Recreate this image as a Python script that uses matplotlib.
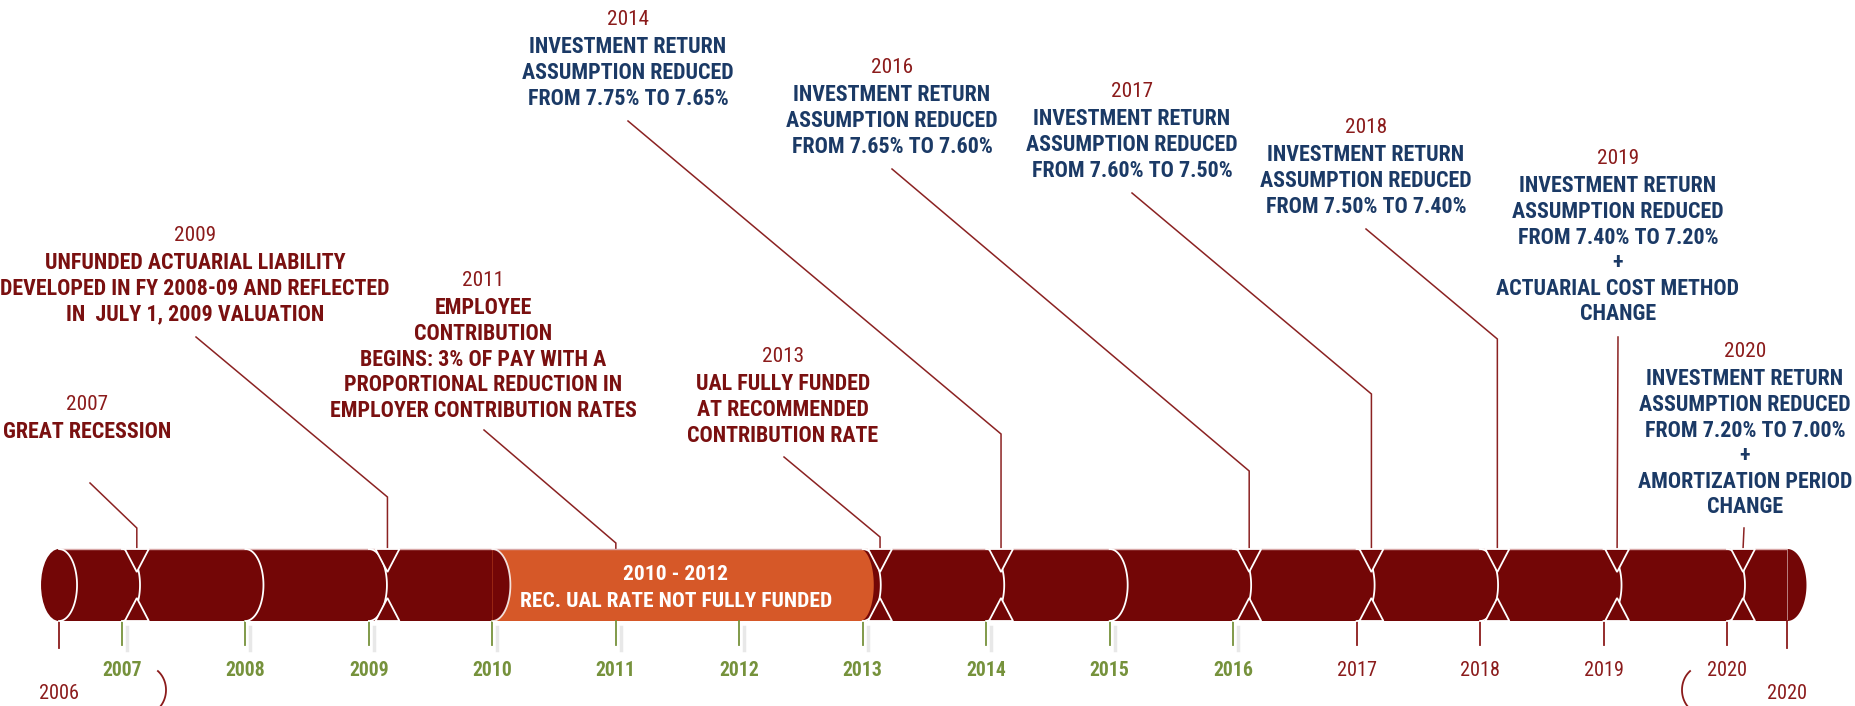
import matplotlib
matplotlib.use("Agg")
import matplotlib.pyplot as plt
from matplotlib import font_manager as fm
from matplotlib.patches import Rectangle, Ellipse, Polygon, Arc
import numpy as np

# ---------------- data ----------------
tick_years = list(range(2007, 2021))
tick_labels = [str(y) for y in tick_years]
span_start, span_end = 2006.49, 2020.49          # timeline ends
span_labels = ["2006", "2020"]
green_until = 2016                               # ticks up to this year in green
orange_span = (2010, 2013)
orange_lines = ["2010 - 2012", "REC. UAL RATE NOT FULLY FUNDED"]

event_years = [2007, 2009, 2011, 2013, 2014, 2016, 2017, 2018, 2019, 2020]
event_pos = [2007.12, 2009.15, 2011.0, 2013.14, 2014.12, 2016.13, 2017.12, 2018.14, 2019.11, 2020.13]
event_lines = [
    ["GREAT RECESSION"],
    ["UNFUNDED ACTUARIAL LIABILITY", "DEVELOPED IN FY 2008-09 AND REFLECTED", "IN  JULY 1, 2009 VALUATION"],
    ["EMPLOYEE", "CONTRIBUTION", "BEGINS: 3% OF PAY WITH A", "PROPORTIONAL REDUCTION IN",
     "EMPLOYER CONTRIBUTION RATES"],
    ["UAL FULLY FUNDED", "AT RECOMMENDED", "CONTRIBUTION RATE"],
    ["INVESTMENT RETURN", "ASSUMPTION REDUCED", "FROM 7.75% TO 7.65%"],
    ["INVESTMENT RETURN", "ASSUMPTION REDUCED", "FROM 7.65% TO 7.60%"],
    ["INVESTMENT RETURN", "ASSUMPTION REDUCED", "FROM 7.60% TO 7.50%"],
    ["INVESTMENT RETURN", "ASSUMPTION REDUCED", "FROM 7.50% TO 7.40%"],
    ["INVESTMENT RETURN", "ASSUMPTION REDUCED", "FROM 7.40% TO 7.20%", "+",
     "ACTUARIAL COST METHOD", "CHANGE"],
    ["INVESTMENT RETURN", "ASSUMPTION REDUCED", "FROM 7.20% TO 7.00%", "+",
     "AMORTIZATION PERIOD", "CHANGE"],
]
event_kind = ["m", "m", "m", "m", "b", "b", "b", "b", "b", "b"]   # m = maroon text, b = blue text
hourglass_events = [2007, 2009, 2013, 2014, 2016, 2017, 2018, 2019, 2020]

# ---------------- layout (pixels of the 1855x706 canvas) ----------------
W, H = 1855, 706
PX0, PPY = 122.0, 123.46        # pixel x of 2007 tick, pixels per year
label_cx = [87, 195, 483, 783, 628, 892, 1132, 1366, 1618, 1745]
label_y = [402, 233, 278, 354, 17, 65, 89, 125, 156, 349]
conn_start = [(90, 483), (196, 337), (484, 430), (784, 457), (628, 121), (892, 169),
              (1132, 193), (1366, 229), (1618, 337), (1744, 528)]
conn_elbow_y = [528, 497, 543, 537, 434, 471, 394, 339, None, None]
TOP, BOT = 549, 621
MID = (TOP + BOT) / 2
CAP_A = 18.0                     # half width (px) of the elliptical caps
LINE0, LINE_STEP = 28.5, 25.6

BODY_C = "#730606"
ORANGE_C = "#D65828"
MAROON_T = "#7A1010"
YEAR_T = "#8B1B1B"
BLUE_T = "#1B3A66"
GREEN_T = "#76923C"
CONN_C = "#8B2222"


def X(px):
    return 2007 + (px - PX0) / PPY


def A(px):
    return px / PPY


def available(name):
    try:
        fm.findfont(fm.FontProperties(family=name), fallback_to_default=False)
        return True
    except Exception:
        return False


FAMILY = next((f for f in ["Liberation Sans Narrow", "Roboto Condensed", "Open Sans", "Liberation Sans"]
               if available(f)), "DejaVu Sans")
plt.rcParams["font.family"] = [FAMILY, "DejaVu Sans"]

fig = plt.figure(figsize=(W / 100, H / 100), dpi=100)
renderer = fig.canvas.get_renderer()


def fit(s, w_px, weight):
    t = fig.text(0, 0, s, fontsize=20, fontweight=weight)
    w = t.get_window_extent(renderer).width
    t.remove()
    return 20 * w_px / w


BODY_FS = fit("ASSUMPTION REDUCED", 212, "bold")
YEAR_FS = fit("2014", 42, "normal")
TICK_FS = fit("2007", 40, "bold")
BAR_FS = fit("REC. UAL RATE NOT FULLY FUNDED", 311, "bold")

ax = fig.add_axes([0, 0, 1, 1])
ax.set_xlim(X(0), X(W))
ax.set_ylim(H, 0)
ax.axis("off")


def ctext(x, yc, s, fs, color, weight="normal"):
    em = fs * 100 / 72
    ax.text(x, yc + 0.36 * em, s, fontsize=fs, color=color, fontweight=weight,
            ha="center", va="baseline", zorder=10)


def ellipse_pts(cx, cy, a_px, b_px, t0, t1, n=80):
    t = np.deg2rad(np.linspace(t0, t1, n))
    return cx + A(a_px) * np.cos(t), cy + b_px * np.sin(t)


def half_ellipse(cx, a_px, b_px=(BOT - TOP) / 2):
    xs, ys = ellipse_pts(cx, MID, a_px, b_px, -90, 90)
    return np.column_stack([xs, ys])


# ---------------- cylinder ----------------
ax.add_patch(Rectangle((span_start, TOP), span_end - span_start, BOT - TOP,
                       facecolor=BODY_C, edgecolor="none", zorder=2))
ax.add_patch(Rectangle((orange_span[0], TOP), orange_span[1] - orange_span[0], BOT - TOP,
                       facecolor=ORANGE_C, edgecolor="none", zorder=3))
# dark cap over orange
ax.add_patch(Polygon(half_ellipse(orange_span[0], CAP_A), closed=True,
                     facecolor=BODY_C, edgecolor="none", zorder=4))
# orange cap over dark
ax.add_patch(Polygon(half_ellipse(orange_span[1] - A(3), CAP_A - 4), closed=True,
                     facecolor=ORANGE_C, edgecolor="none", zorder=4))
# left end ellipse, right end cap
ax.add_patch(Ellipse((span_start, MID), 2 * A(CAP_A), BOT - TOP, facecolor=BODY_C,
                     edgecolor="none", zorder=4))
ax.add_patch(Polygon(half_ellipse(span_end, CAP_A + 1), closed=True,
                     facecolor=BODY_C, edgecolor="none", zorder=4))
# top highlight
ax.plot([span_start, span_end], [TOP, TOP], color="#D9A8A8", lw=1.0, zorder=5,
        solid_capstyle="butt")

# boundary arcs
arc_years = [span_start] + [y for y in tick_years if not (orange_span[0] < y < orange_span[1])]
for y in arc_years:
    alpha = 0.85 if y == orange_span[0] else 1.0
    xs, ys = ellipse_pts(y, MID, CAP_A, (BOT - TOP) / 2, -90, 90)
    ax.plot(xs, ys, color="white", lw=1.3, alpha=alpha, zorder=6)

# hourglass markers
for yr, p in zip(event_years, event_pos):
    if yr not in hourglass_events:
        continue
    for base, apex in ((TOP, TOP + 23), (BOT, BOT - 23)):
        tri = [(p - A(12), base), (p + A(12), base), (p, apex)]
        ax.add_patch(Polygon(tri, closed=True, facecolor=BODY_C, edgecolor="white",
                             lw=1.3, zorder=7, joinstyle="miter"))

# bar text
ctext(X(676), 572, orange_lines[0], BAR_FS, "white", "bold")
ctext(X(676), 599, orange_lines[1], BAR_FS, "white", "bold")

# ---------------- ticks and tick labels ----------------
for y, lab in zip(tick_years, tick_labels):
    green = y <= green_until
    col = GREEN_T if green else YEAR_T
    if green:
        ax.plot([y + A(5), y + A(5)], [627, 650], color="#E8E8E8", lw=2.5, zorder=1)
    ax.plot([y, y], [BOT, 645], color=col, lw=1.3, zorder=3)
    ctext(y, 669, lab, TICK_FS if green else YEAR_FS * 40 / 42, col,
          "bold" if green else "normal")
for y, lab in zip([span_start, span_end], span_labels):
    ax.plot([y, y], [BOT, 648], color=YEAR_T, lw=1.3, zorder=3)
    ctext(y, 692, lab, YEAR_FS * 40 / 42, YEAR_T)

# decorative brackets
bx, by = ellipse_pts(X(145), 690, 21, 24, -52, 52)
ax.plot(bx, by, color=YEAR_T, lw=1.3)
bx, by = ellipse_pts(X(1703), 690, 21, 24, 128, 232)
ax.plot(bx, by, color=YEAR_T, lw=1.3)

# ---------------- event labels and connectors ----------------
for i, yr in enumerate(event_years):
    cx = X(label_cx[i])
    ctext(cx, label_y[i], str(yr), YEAR_FS, YEAR_T)
    col = MAROON_T if event_kind[i] == "m" else BLUE_T
    for j, line in enumerate(event_lines[i]):
        ctext(cx, label_y[i] + LINE0 + LINE_STEP * j, line, BODY_FS, col, "bold")
    sx, sy = conn_start[i]
    xs = [X(sx)]
    ys = [sy]
    if conn_elbow_y[i] is not None:
        xs.append(event_pos[i])
        ys.append(conn_elbow_y[i])
    xs.append(event_pos[i])
    ys.append(TOP)
    ax.plot(xs, ys, color=CONN_C, lw=1.1, zorder=3, solid_joinstyle="miter")

fig.savefig("out.png", dpi=100, facecolor="white")
